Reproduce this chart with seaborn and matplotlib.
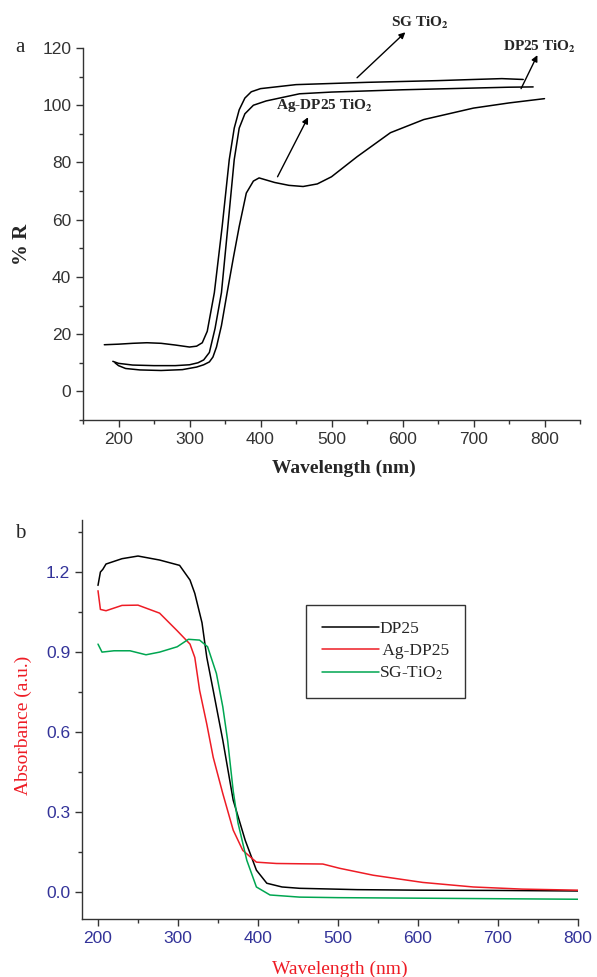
import matplotlib
matplotlib.use("Agg")
import matplotlib.pyplot as plt
from matplotlib.ticker import MultipleLocator
import numpy as np
import pandas as pd
import seaborn as sns

# panel a: diffuse reflectance (%R)
wl_sg_a = [180, 200, 220, 240, 260, 280, 300, 310, 318, 325, 335, 346, 356, 363, 370, 378,
           387, 400, 450, 500, 550, 600, 650, 700, 740, 770]
r_sg = [16.3, 16.5, 16.8, 17.0, 16.8, 16.2, 15.5, 15.8, 17.0, 21.0, 34.5, 57.6, 81.0, 92.0,
        98.4, 102.5, 104.7, 105.8, 107.2, 107.6, 108.0, 108.3, 108.6, 109.0, 109.3, 109.0]
wl_dp_a = [192, 200, 220, 250, 280, 300, 312, 320, 328, 336, 345, 354, 363, 370, 378, 390,
           408, 455, 500, 550, 600, 650, 700, 750, 784]
r_dp = [10.5, 9.8, 9.2, 9.0, 9.0, 9.3, 10.0, 11.0, 13.6, 22.0, 34.5, 57.6, 81.0, 92.0, 97.0,
        100.0, 101.5, 104.0, 104.6, 105.0, 105.4, 105.7, 106.0, 106.3, 106.4]
wl_ag_a = [195, 200, 210, 230, 260, 290, 310, 320, 328, 333, 338, 345, 353, 362, 370, 380,
           390, 398, 420, 440, 460, 480, 500, 536, 583, 630, 700, 750, 800]
r_ag = [10.0, 9.0, 8.0, 7.5, 7.3, 7.6, 8.5, 9.3, 10.3, 12.0, 15.5, 23.0, 34.5, 47.0, 57.6,
        69.3, 73.5, 74.6, 73.0, 72.0, 71.6, 72.5, 75.0, 82.0, 90.4, 95.0, 99.0, 100.8, 102.3]

# panel b: absorbance
wl_dp_b = [200, 203, 206, 210, 220, 230, 250, 277, 302, 315, 321, 330, 336, 344, 356, 369,
           384, 398, 411, 430, 452, 524, 600, 700, 800]
ab_dp = [1.15, 1.20, 1.21, 1.23, 1.24, 1.25, 1.26, 1.245, 1.225, 1.17, 1.12, 1.01, 0.88, 0.757,
         0.57, 0.345, 0.195, 0.083, 0.034, 0.020, 0.015, 0.010, 0.008, 0.007, 0.005]
wl_ag_b = [200, 203, 210, 230, 250, 277, 299, 315, 321, 327, 336, 344, 356, 369, 381, 398,
           423, 450, 481, 502, 544, 606, 669, 730, 800]
ab_ag = [1.13, 1.06, 1.055, 1.075, 1.076, 1.046, 0.98, 0.93, 0.88, 0.757, 0.63, 0.506, 0.37,
         0.233, 0.157, 0.113, 0.108, 0.107, 0.106, 0.09, 0.064, 0.037, 0.020, 0.012, 0.008]
wl_sg_b = [200, 205, 220, 240, 260, 277, 299, 313, 327, 337, 348, 356, 362, 369, 375, 386,
           398, 415, 452, 500, 600, 700, 800]
ab_sg = [0.93, 0.90, 0.905, 0.905, 0.89, 0.90, 0.92, 0.948, 0.945, 0.92, 0.82, 0.695, 0.57,
         0.38, 0.26, 0.12, 0.02, -0.01, -0.018, -0.020, -0.022, -0.024, -0.026]

df_a = pd.concat([
    pd.DataFrame({"wl": wl_sg_a, "val": r_sg, "sample": "SG"}),
    pd.DataFrame({"wl": wl_dp_a, "val": r_dp, "sample": "DP25"}),
    pd.DataFrame({"wl": wl_ag_a, "val": r_ag, "sample": "Ag"}),
])
df_b = pd.concat([
    pd.DataFrame({"wl": wl_dp_b, "val": ab_dp, "sample": "DP25"}),
    pd.DataFrame({"wl": wl_ag_b, "val": ab_ag, "sample": " Ag-DP25"}),
    pd.DataFrame({"wl": wl_sg_b, "val": ab_sg, "sample": "SG-TiO$_2$"}),
])

sns.set_style("ticks")
plt.rcParams["font.family"] = ["Liberation Sans", "DejaVu Sans"]
plt.rcParams["mathtext.fontset"] = "stix"

fig = plt.figure(figsize=(5.97, 9.77), dpi=100)
ax1 = fig.add_axes([83 / 597, 1 - 420 / 977, 497 / 597, 372 / 977])
ax2 = fig.add_axes([82 / 597, 1 - 919 / 977, 496 / 597, 399 / 977])

serif = ["Liberation Serif", "DejaVu Serif"]

# ---- panel a
sns.lineplot(data=df_a, x="wl", y="val", units="sample", estimator=None, sort=False,
             color="black", lw=1.1, ax=ax1)
ax1.set_xlim(150, 850)
ax1.set_ylim(-10, 120)
ax1.set_xticks([200, 300, 400, 500, 600, 700, 800])
ax1.xaxis.set_minor_locator(MultipleLocator(50))
ax1.set_yticks([0, 20, 40, 60, 80, 100, 120])
ax1.yaxis.set_minor_locator(MultipleLocator(10))
ax1.tick_params(which="major", length=5, width=1, colors="#333333", labelsize=12.5)
ax1.tick_params(which="minor", length=3, width=1, color="#333333")
for s in ["left", "bottom"]:
    ax1.spines[s].set_color("#333333")
    ax1.spines[s].set_linewidth(1)
sns.despine(ax=ax1)
ax1.set_xlabel("Wavelength (nm)", family=serif, fontweight="bold", fontsize=14)
ax1.set_ylabel("% R", family=serif, fontweight="bold", fontsize=15)
ax1.xaxis.set_label_coords(0.525, -0.107)
ax1.yaxis.set_label_coords(-0.103, 0.473)

arrow = dict(arrowstyle="-|>", color="black", lw=1, mutation_scale=9, shrinkA=0, shrinkB=0)
ax1.annotate("", xy=(604, 125.5), xytext=(536, 109.6), arrowprops=arrow, annotation_clip=False)
ax1.annotate("", xy=(790, 117.5), xytext=(767, 105.8), arrowprops=arrow, annotation_clip=False)
ax1.annotate("", xy=(467, 95.8), xytext=(424, 75.0), arrowprops=arrow, annotation_clip=False)
ax1.text(625, 128.6, r"SG TiO$_\mathbf{2}$", family=serif, fontweight="bold", fontsize=11,
         ha="center", va="center", clip_on=False)
ax1.text(793, 120.3, r"DP25 TiO$_\mathbf{2}$", family=serif, fontweight="bold", fontsize=11,
         ha="center", va="center", clip_on=False)
ax1.text(490, 99.8, r"Ag-DP25 TiO$_\mathbf{2}$", family=serif, fontweight="bold", fontsize=11,
         ha="center", va="center")

# ---- panel b
palette = {"DP25": "black", " Ag-DP25": "#ee1c25", "SG-TiO$_2$": "#00a651"}
sns.lineplot(data=df_b, x="wl", y="val", hue="sample", palette=palette, estimator=None,
             sort=False, lw=1.1, ax=ax2)
ax2.set_xlim(180, 800)
ax2.set_ylim(-0.1, 1.395)
ax2.set_xticks([200, 300, 400, 500, 600, 700, 800])
ax2.xaxis.set_minor_locator(MultipleLocator(50))
ax2.set_yticks([0.0, 0.3, 0.6, 0.9, 1.2])
ax2.yaxis.set_minor_locator(MultipleLocator(0.15))
ax2.tick_params(which="major", length=5, width=1, color="#333333",
                labelcolor="#333399", labelsize=12.5)
ax2.tick_params(which="minor", length=3, width=1, color="#333333")
for s in ["left", "bottom"]:
    ax2.spines[s].set_color("#333333")
    ax2.spines[s].set_linewidth(1)
sns.despine(ax=ax2)
ax2.set_xlabel("Wavelength (nm)", family=serif, color="#ee1c25", fontsize=14)
ax2.set_ylabel("Absorbance (a.u.)", family=serif, color="#ee1c25", fontsize=14)
ax2.xaxis.set_label_coords(0.52, -0.105)
ax2.yaxis.set_label_coords(-0.101, 0.486)

leg = ax2.legend(title=None, loc="upper left", bbox_to_anchor=(0.452, 0.787),
                 prop={"family": serif, "size": 12.5}, frameon=True, fancybox=False,
                 edgecolor="black", handlelength=3.3, handletextpad=0.0,
                 borderpad=0.9, labelspacing=0.35, borderaxespad=0)
leg.get_frame().set_linewidth(1)

fig.text(15 / 597, 1 - 47 / 977, "a", family=serif, fontsize=15, ha="left", va="center")
fig.text(15 / 597, 1 - 533 / 977, "b", family=serif, fontsize=15, ha="left", va="center")

fig.savefig("out.png", dpi=100)
